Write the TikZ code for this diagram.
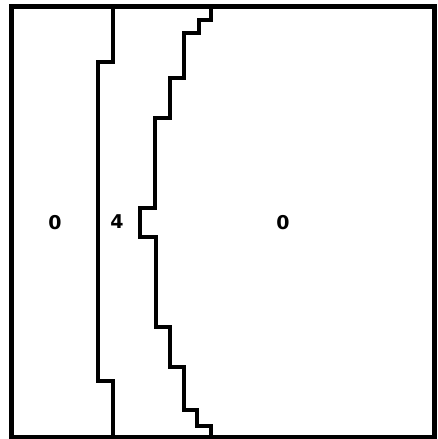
\documentclass[tikz,border=0pt]{standalone}
\usepackage{fontspec}
\newfontfamily\lblfont{DejaVu Sans}
\begin{document}
\begin{tikzpicture}[x=1pt,y=-1pt,
  boundary/.style={line width=4pt,line join=miter},
  frame/.style={line width=5pt},
  lbl/.style={font=\lblfont\bfseries\fontsize{19}{22}\selectfont,inner sep=0pt}]
\useasboundingbox (0,0) rectangle (438,439);
\draw[frame] (11,6) rectangle (434,437);
% left boundary
\coordinate (l0) at (113,6);
\coordinate (l1) at (113,437);
\draw[boundary] (l0) -- (113,62) -- (98,62) -- (98,381) -- (113,381) -- (l1);
% right boundary
\coordinate (r0) at (211,6);
\coordinate (r1) at (211,437);
\draw[boundary] (r0) -- (211,20) -- (199,20) -- (199,33) -- (184,33) -- (184,78)
  -- (170,78) -- (170,118) -- (155,118) -- (155,208) -- (140,208) -- (140,237)
  -- (156,237) -- (156,327) -- (170,327) -- (170,367) -- (184,367) -- (184,410)
  -- (197,410) -- (197,426) -- (211,426) -- (r1);
\node[lbl] (a) at (55,223) {0};
\node[lbl] (b) at (117,222) {4};
\node[lbl] (c) at (283,223) {0};
\end{tikzpicture}
\end{document}
